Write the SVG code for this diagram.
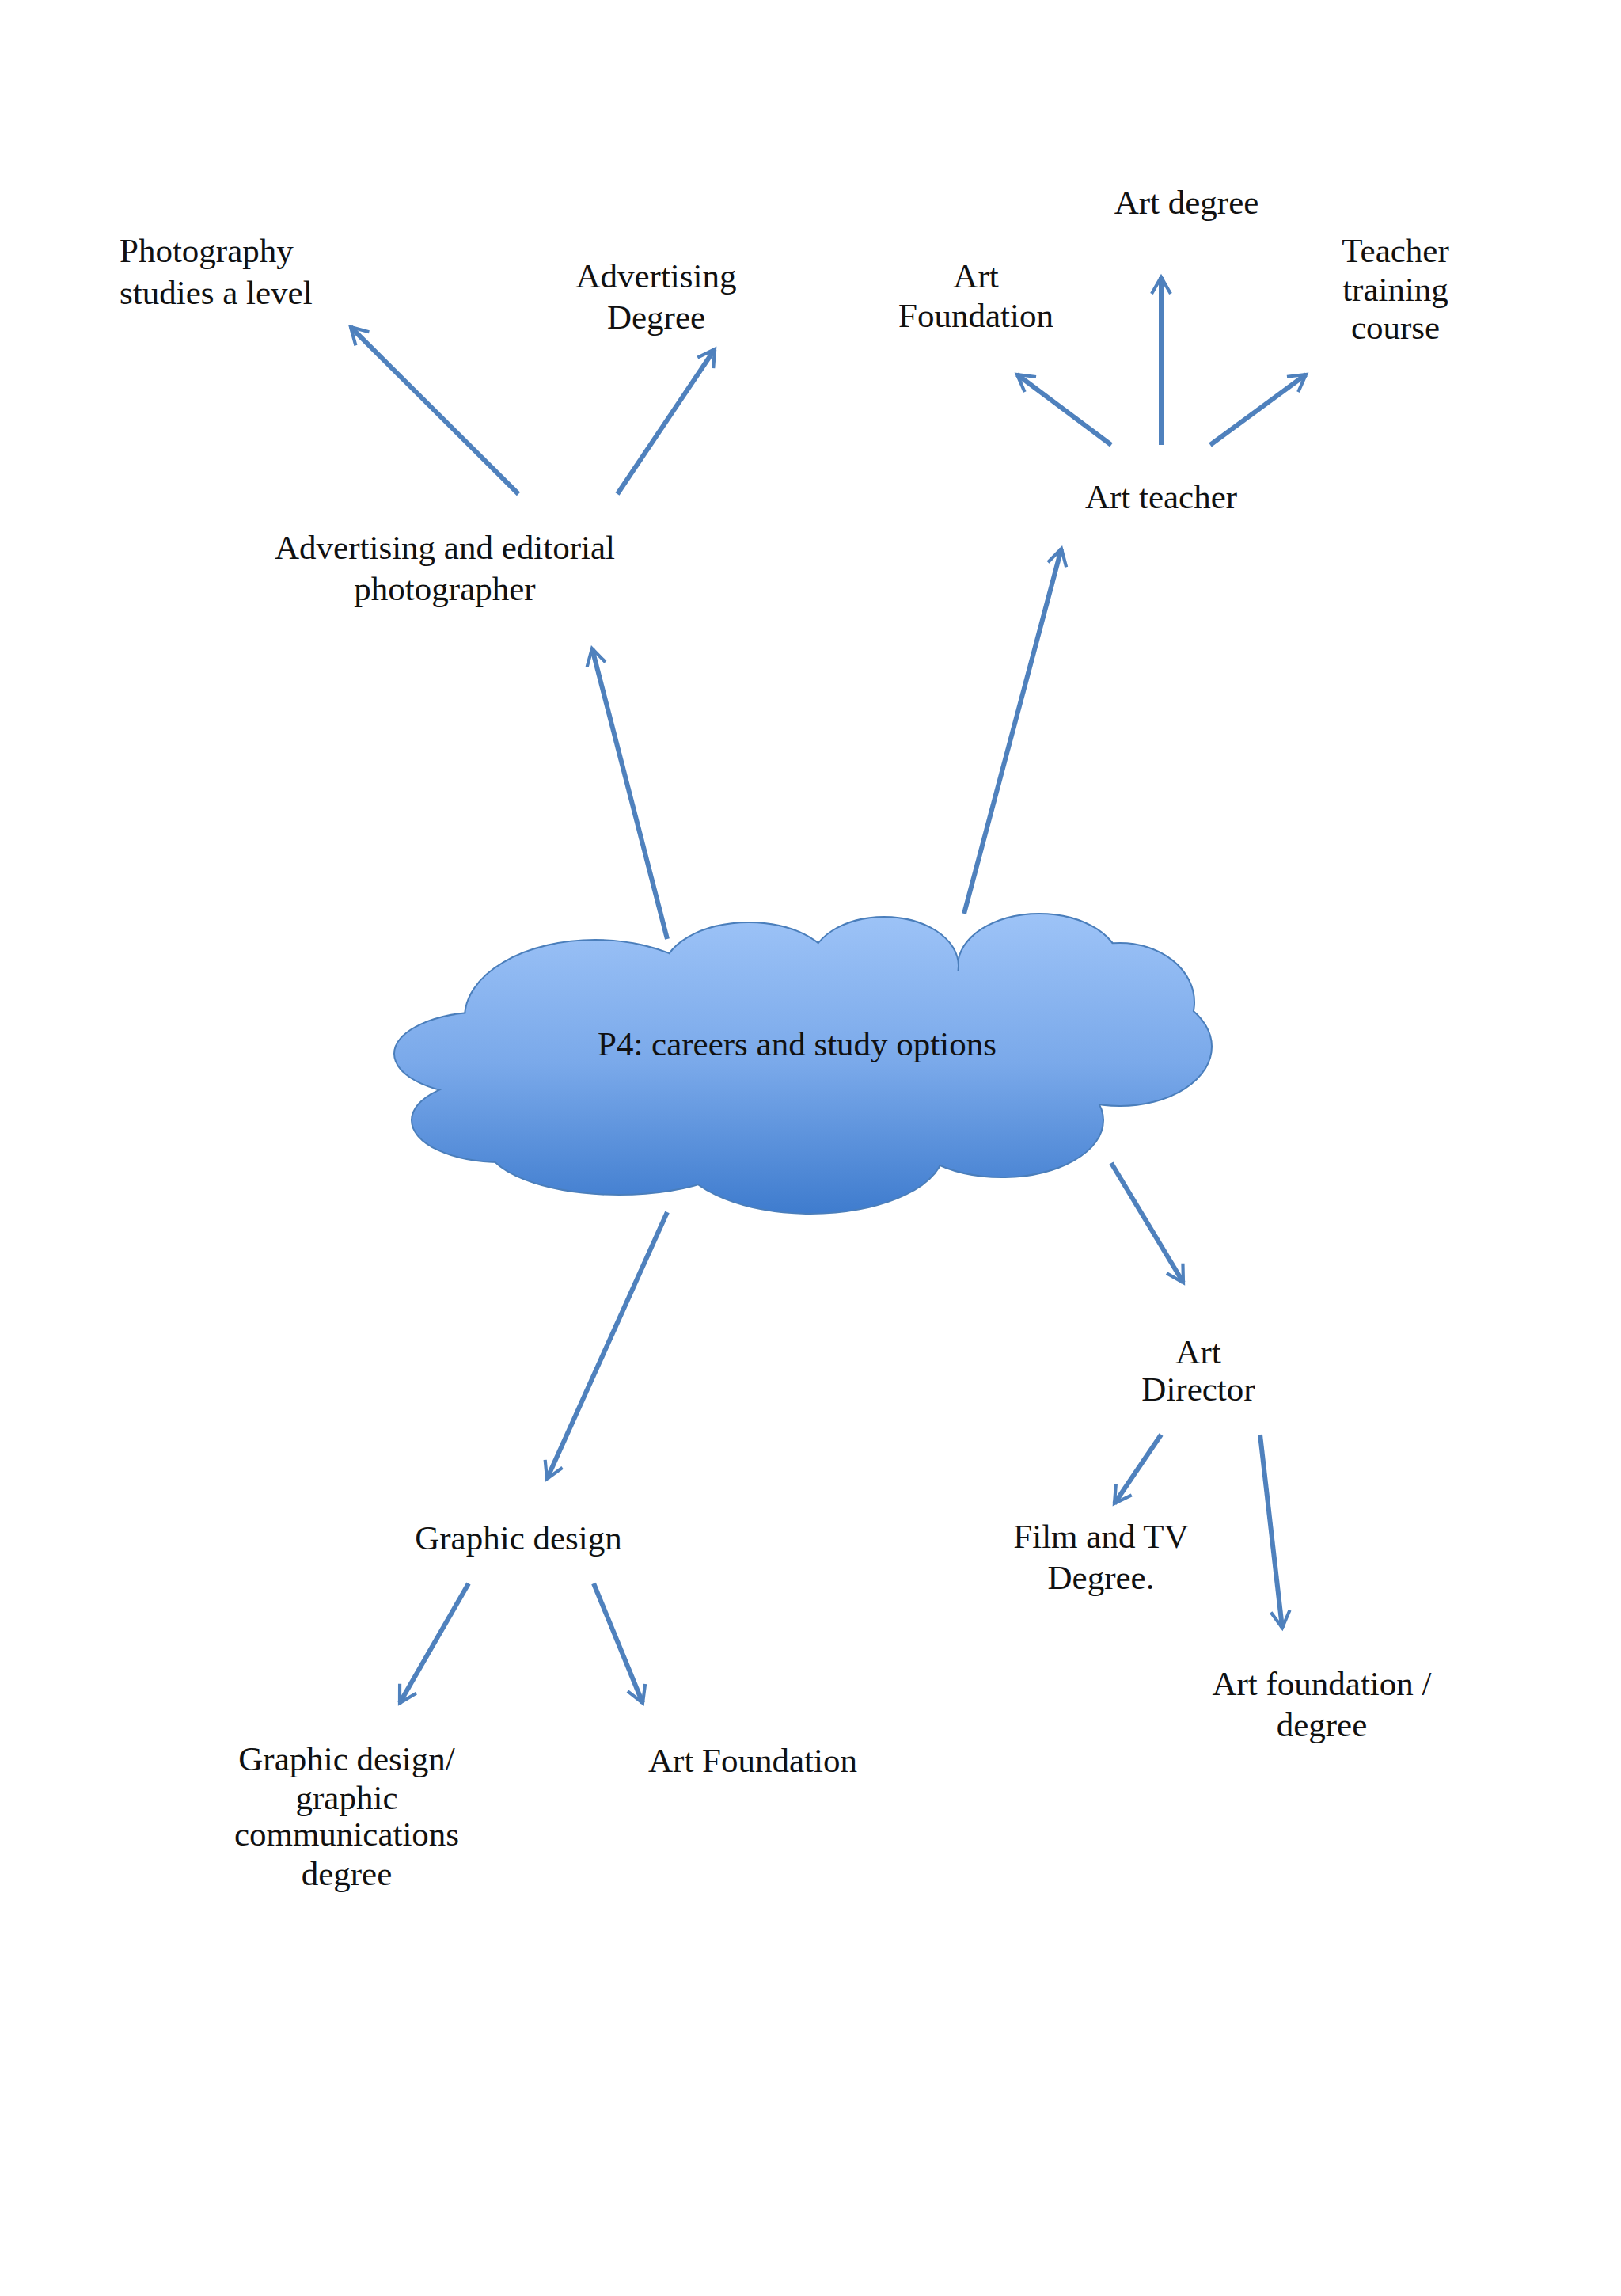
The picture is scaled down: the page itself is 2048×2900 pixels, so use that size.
<svg xmlns="http://www.w3.org/2000/svg" width="2048" height="2900" viewBox="0 0 2048 2900">
<style>
text{font-family:"Liberation Serif","DejaVu Serif",serif;font-size:43px;fill:#111;text-anchor:middle}
.l{text-anchor:start}
.c line{stroke:#4f81bd;stroke-width:6;marker-end:url(#a)}
.o ellipse{fill:none;stroke:#4a7ebb;stroke-width:4}
.f ellipse{fill:url(#g)}
</style>
<defs>
<marker id="a" viewBox="0 0 10 10" refX="8" refY="5" markerWidth="5" markerHeight="5" orient="auto" markerUnits="strokeWidth">
<path d="M1,1 L8,5 L1,9" fill="none" stroke="#4f81bd" stroke-width="1.4"/>
</marker>
<linearGradient id="g" gradientUnits="userSpaceOnUse" x1="0" y1="1154" x2="0" y2="1532">
<stop offset="0" stop-color="#9dc3f7"/><stop offset="0.5" stop-color="#7aa9ea"/><stop offset="1" stop-color="#3f7cce"/>
</linearGradient>
</defs>
<rect width="2048" height="2900" fill="#fff"/>
<g id="cloud">
<g class="o">
<ellipse cx="752" cy="1285" rx="164" ry="97"/><ellipse cx="614" cy="1331" rx="115" ry="52"/><ellipse cx="633" cy="1415" rx="112" ry="52"/><ellipse cx="782" cy="1443" rx="168" ry="65"/><ellipse cx="1024" cy="1452" rx="168" ry="80"/><ellipse cx="1266" cy="1415" rx="127" ry="71"/><ellipse cx="1415" cy="1322" rx="115" ry="74"/><ellipse cx="1415" cy="1266" rx="93" ry="74"/><ellipse cx="1313" cy="1220" rx="102" ry="65"/><ellipse cx="1117" cy="1220" rx="93" ry="61"/><ellipse cx="946" cy="1229" rx="108" ry="63"/><ellipse cx="1015" cy="1341" rx="410" ry="130"/>
</g>
<g class="f">
<ellipse cx="752" cy="1285" rx="164" ry="97"/><ellipse cx="614" cy="1331" rx="115" ry="52"/><ellipse cx="633" cy="1415" rx="112" ry="52"/><ellipse cx="782" cy="1443" rx="168" ry="65"/><ellipse cx="1024" cy="1452" rx="168" ry="80"/><ellipse cx="1266" cy="1415" rx="127" ry="71"/><ellipse cx="1415" cy="1322" rx="115" ry="74"/><ellipse cx="1415" cy="1266" rx="93" ry="74"/><ellipse cx="1313" cy="1220" rx="102" ry="65"/><ellipse cx="1117" cy="1220" rx="93" ry="61"/><ellipse cx="946" cy="1229" rx="108" ry="63"/><ellipse cx="1015" cy="1341" rx="410" ry="130"/>
</g>
<text x="1007" y="1333">P4: careers and study options</text>
</g>
<g class="c" id="connectors">
<line x1="655" y1="624" x2="443" y2="413"/>
<line x1="780" y1="624" x2="903" y2="441"/>
<line x1="1404" y1="562" x2="1285" y2="473"/>
<line x1="1467" y1="562" x2="1467" y2="350"/>
<line x1="1529" y1="562" x2="1650" y2="473"/>
<line x1="843" y1="1186" x2="748" y2="819"/>
<line x1="1218" y1="1154" x2="1341" y2="693"/>
<line x1="1404" y1="1469" x2="1495" y2="1620"/>
<line x1="843" y1="1531" x2="691" y2="1868"/>
<line x1="1467" y1="1812" x2="1408" y2="1899"/>
<line x1="1592" y1="1812" x2="1620" y2="2056"/>
<line x1="592" y1="2000" x2="505" y2="2151"/>
<line x1="750" y1="2000" x2="812" y2="2151"/>
</g>
<g id="photo-a"><text class="l" x="151" y="331">Photography</text><text class="l" x="151" y="384">studies a level</text></g>
<g id="adv-degree"><text x="829" y="363">Advertising</text><text x="829" y="415">Degree</text></g>
<g id="art-found1"><text x="1233" y="363">Art</text><text x="1233" y="413">Foundation</text></g>
<g id="art-degree"><text x="1499" y="270">Art degree</text></g>
<g id="teacher-training"><text x="1763" y="331">Teacher</text><text x="1763" y="380">training</text><text x="1763" y="428">course</text></g>
<g id="art-teacher"><text x="1467" y="642">Art teacher</text></g>
<g id="adv-photographer"><text x="562" y="706">Advertising and editorial</text><text x="562" y="758">photographer</text></g>
<g id="art-director"><text x="1514" y="1722">Art</text><text x="1514" y="1769">Director</text></g>
<g id="graphic-design"><text x="655" y="1957">Graphic design</text></g>
<g id="film-tv"><text x="1391" y="1955">Film and TV</text><text x="1391" y="2007">Degree.</text></g>
<g id="art-found-degree"><text x="1670" y="2141">Art foundation /</text><text x="1670" y="2193">degree</text></g>
<g id="gd-degree"><text x="438" y="2236">Graphic design/</text><text x="438" y="2285">graphic</text><text x="438" y="2331">communications</text><text x="438" y="2381">degree</text></g>
<g id="art-found2"><text x="951" y="2238">Art Foundation</text></g>
</svg>
